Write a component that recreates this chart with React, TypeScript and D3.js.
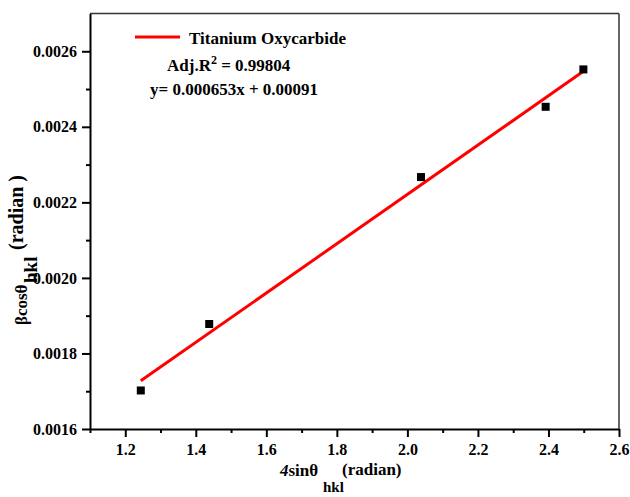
import React, { useEffect, useRef } from 'react';
import * as d3 from 'd3';

// measured points (4 sinθ, β cosθ)
const sinValues = [1.244, 1.438, 2.0385, 2.392, 2.499];
const betaValues = [0.001702, 0.001878, 0.002267, 0.002453, 0.002552];

const xMajor = [1.2, 1.4, 1.6, 1.8, 2.0, 2.2, 2.4, 2.6];
const xMinor = [1.1, 1.3, 1.5, 1.7, 1.9, 2.1, 2.3, 2.5];
const yMajor = [0.0016, 0.0018, 0.002, 0.0022, 0.0024, 0.0026];
const yMinor = [0.0017, 0.0019, 0.0021, 0.0023, 0.0025];

const seriesName = 'Titanium Oxycarbide';
const adjR2 = '0.99804';
const fitText = 'y= 0.000653x + 0.00091';

const FONT = '"Liberation Serif", "Times New Roman", serif';

function App() {
  const canvas = useRef<SVGSVGElement>(null);

  useEffect(() => {
    const width = 630;
    const height = 497;
    const margin = { top: 13.5, left: 90, bottom: 68, right: 11 };
    const iwidth = width - margin.left - margin.right;
    const iheight = height - margin.top - margin.bottom;

    const svg = d3.select(canvas.current).attr('width', width).attr('height', height);
    svg.selectAll('*').remove();

    const g = svg.append('g').attr('transform', `translate(${margin.left},${margin.top})`);

    const x = d3.scaleLinear().domain([1.1, 2.6]).range([0, iwidth]);
    const y = d3.scaleLinear().domain([0.0016, 0.0027]).range([iheight, 0]);

    // frame top / right
    g.append('line').attr('x1', 0).attr('x2', iwidth).attr('y1', 0).attr('y2', 0)
      .attr('stroke', '#333').attr('stroke-width', 1.5);
    g.append('line').attr('x1', iwidth).attr('x2', iwidth).attr('y1', 0).attr('y2', iheight)
      .attr('stroke', '#333').attr('stroke-width', 1.5);

    // minor ticks
    g.append('g').attr('transform', `translate(0,${iheight})`)
      .call(d3.axisBottom(x).tickValues(xMinor).tickSize(4).tickFormat(() => ''))
      .call(a => a.select('.domain').remove())
      .selectAll('line').attr('stroke-width', 2);
    g.append('g')
      .call(d3.axisLeft(y).tickValues(yMinor).tickSize(4).tickFormat(() => ''))
      .call(a => a.select('.domain').remove())
      .selectAll('line').attr('stroke-width', 2);

    // major axes
    const xa = g.append('g').attr('transform', `translate(0,${iheight})`)
      .call(d3.axisBottom(x).tickValues(xMajor).tickSize(8).tickSizeOuter(0).tickFormat(d3.format('.1f')));
    xa.select('.domain').attr('stroke-width', 2);
    xa.selectAll('line').attr('stroke-width', 2);
    xa.selectAll('text').attr('y', 26).attr('dy', null)
      .attr('font-family', FONT).attr('font-weight', 'bold').attr('font-size', 16);

    const ya = g.append('g')
      .call(d3.axisLeft(y).tickValues(yMajor).tickSize(8).tickSizeOuter(0).tickPadding(5).tickFormat(d3.format('.4f')));
    ya.select('.domain').attr('stroke-width', 2);
    ya.selectAll('line').attr('stroke-width', 2);
    ya.selectAll('text').attr('font-family', FONT).attr('font-weight', 'bold').attr('font-size', 16);

    // linear fit
    const pts = sinValues.map((s, i) => [s, betaValues[i]] as [number, number]);
    const mx = d3.mean(sinValues) as number;
    const my = d3.mean(betaValues) as number;
    const slope = d3.sum(pts, p => (p[0] - mx) * (p[1] - my)) / d3.sum(pts, p => (p[0] - mx) ** 2);
    const icpt = my - slope * mx;
    const [x0, x1] = d3.extent(sinValues) as [number, number];
    const line = d3.line<number>().x(d => x(d)).y(d => y(slope * d + icpt));
    g.append('path').attr('d', line([x0, x1])).attr('fill', 'none')
      .attr('stroke', '#ff0000').attr('stroke-width', 3);

    // points
    g.selectAll('rect.pt').data(pts).enter().append('rect').attr('class', 'pt')
      .attr('x', d => x(d[0]) - 4).attr('y', d => y(d[1]) - 4)
      .attr('width', 8).attr('height', 8).attr('fill', '#000');

    // legend
    svg.append('line').attr('x1', 135).attr('x2', 180).attr('y1', 37).attr('y2', 37)
      .attr('stroke', '#ff0000').attr('stroke-width', 3);
    const txt = (parent: any, tx: number, ty: number, size = 17) => parent.append('text').attr('x', tx).attr('y', ty)
      .attr('font-family', FONT).attr('font-weight', 'bold').attr('font-size', size).attr('fill', '#000');
    txt(svg, 189, 44).text(seriesName);
    const r = txt(svg, 167, 71);
    r.append('tspan').text('Adj.R');
    r.append('tspan').attr('dy', -7).attr('font-size', 12).text('2');
    r.append('tspan').attr('dy', 7).text(` = ${adjR2}`);
    txt(svg, 150, 95).text(fitText);

    // x title
    const xt = txt(svg, 280, 476);
    xt.append('tspan').attr('font-style', 'italic').text('4');
    xt.append('tspan').text('sinθ');
    txt(svg, 323, 492, 15).text('hkl');
    txt(svg, 342, 475).text('(radian)');

    // y title
    const yt = svg.append('g').attr('transform', 'translate(27,325) rotate(-90)');
    txt(yt, 0, 0).text('βcosθ');
    txt(yt, 42, 10, 19).text('hkl');
    txt(yt, 75, -4, 20).text('(radian )');
  });

  return (
    <div id="canvas" style={{ position: 'absolute', left: 0, top: 0 }}>
      <svg ref={canvas}></svg>
    </div>
  );
}

export default App;
